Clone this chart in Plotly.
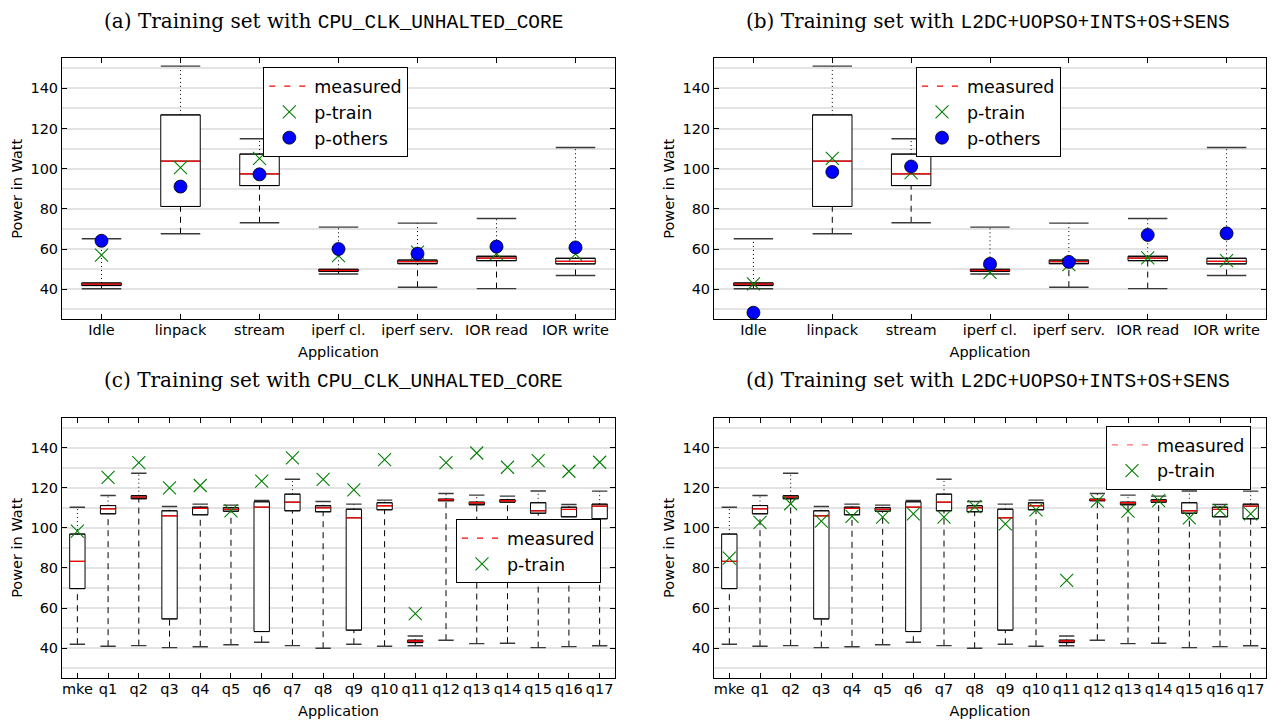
import plotly.graph_objects as go

# ---------------- data ----------------
top_apps = ["Idle", "linpack", "stream", "iperf cl.", "iperf serv.", "IOR read", "IOR write"]
top_low = [40.2, 67.6, 73.1, 47.6, 41.0, 40.3, 46.8]
top_q1 = [41.8, 81.2, 91.6, 48.9, 52.7, 54.2, 52.6]
top_med = [42.5, 103.8, 97.4, 49.4, 53.7, 55.5, 53.9]
top_q3 = [43.1, 126.8, 107.3, 49.9, 54.5, 56.4, 55.4]
top_high = [65.1, 151.1, 114.9, 70.9, 72.9, 75.2, 110.6]

a_ptrain = [57.0, 100.5, 105.1, 56.7, 58.5, 57.7, 57.5]
a_pothers = [64.1, 91.1, 97.2, 60.0, 57.7, 61.2, 60.8]
b_ptrain = [42.6, 105.2, 98.1, 48.4, 52.2, 55.6, 54.2]
b_pothers = [28.3, 98.4, 101.1, 52.6, 53.6, 67.0, 67.8]

bot_apps = ["mke", "q1", "q2", "q3", "q4", "q5", "q6", "q7", "q8", "q9",
            "q10", "q11", "q12", "q13", "q14", "q15", "q16", "q17"]
bot_low = [42.0, 41.0, 41.3, 40.3, 40.7, 41.7, 43.0, 41.3, 40.0, 42.0, 41.0, 41.2, 44.0, 42.3, 42.5, 40.3, 40.8, 41.2]
bot_q1 = [69.7, 107.0, 114.5, 54.6, 106.5, 108.3, 48.3, 108.5, 108.0, 49.0, 109.0, 42.8, 113.5, 111.5, 112.8, 107.3, 105.5, 104.5]
bot_med = [83.3, 109.5, 115.3, 106.0, 109.7, 109.2, 110.3, 112.8, 110.0, 105.0, 111.0, 43.6, 114.0, 112.5, 113.5, 108.5, 109.2, 110.8]
bot_q3 = [96.9, 111.1, 116.0, 108.5, 110.3, 110.0, 113.0, 116.8, 111.0, 109.3, 112.5, 44.0, 114.3, 112.8, 114.0, 112.5, 110.3, 111.8]
bot_high = [110.3, 116.1, 127.2, 110.6, 111.8, 111.3, 113.6, 124.2, 113.1, 111.8, 113.8, 46.1, 117.1, 116.3, 115.8, 118.4, 111.6, 118.3]

c_ptrain = [98.4, 125.2, 132.5, 119.9, 121.1, 108.5, 123.3, 134.9, 124.2, 118.9, 134.0, 57.2, 132.5, 137.3, 130.2, 133.5, 128.2, 132.7]
d_ptrain = [84.9, 102.7, 112.0, 103.3, 105.7, 105.3, 107.0, 105.3, 110.6, 102.0, 109.0, 73.8, 113.3, 108.3, 113.6, 105.0, 108.7, 107.0]

titles = [
    ("(a) Training set with ", "CPU_CLK_UNHALTED_CORE"),
    ("(b) Training set with ", "L2DC+UOPSO+INTS+OS+SENS"),
    ("(c) Training set with ", "CPU_CLK_UNHALTED_CORE"),
    ("(d) Training set with ", "L2DC+UOPSO+INTS+OS+SENS"),
]

# ---------------- style ----------------
BOXW = 0.5
GREEN = "rgb(0,128,0)"
TICKFONT = dict(family="DejaVu Sans", size=14.5, color="black")
LEGFONT = dict(family="DejaVu Sans", size=17.5, color="black")
GRID = "#e3e3e3"

fig = go.Figure()


def seg_xy(pos, a, b, half=None):
    xs, ys = [], []
    for p, lo, hi in zip(pos, a, b):
        if half is None:
            xs += [p, p, None]
            ys += [lo, hi, None]
        else:
            xs += [p - half, p + half, None]
            ys += [lo, lo, None]
    return xs, ys


def add_boxes(ax, low, q1, med, q3, high):
    xa, ya = ("x" + ax, "y" + ax)
    pos = list(range(len(low)))
    fig.add_trace(go.Box(x=pos, q1=q1, median=med, q3=q3, lowerfence=q1, upperfence=q3,
                         width=BOXW, fillcolor="white", line=dict(color="black", width=1),
                         whiskerwidth=1, showlegend=False, xaxis=xa, yaxis=ya, hoverinfo="skip"))
    # lower whiskers dashed
    xs, ys = seg_xy(pos, low, q1)
    fig.add_trace(go.Scatter(x=xs, y=ys, mode="lines", line=dict(color="black", width=1, dash="6px,5px"),
                             showlegend=False, xaxis=xa, yaxis=ya, hoverinfo="skip"))
    # upper whiskers dotted
    xs, ys = seg_xy(pos, q3, high)
    fig.add_trace(go.Scatter(x=xs, y=ys, mode="lines", line=dict(color="black", width=1, dash="1px,3px"),
                             showlegend=False, xaxis=xa, yaxis=ya, hoverinfo="skip"))
    # caps
    xs1, ys1 = seg_xy(pos, low, low, half=BOXW / 2)
    xs2, ys2 = seg_xy(pos, high, high, half=BOXW / 2)
    fig.add_trace(go.Scatter(x=xs1 + xs2, y=ys1 + ys2, mode="lines", line=dict(color="#3a3a3a", width=1.4),
                             showlegend=False, xaxis=xa, yaxis=ya, hoverinfo="skip"))
    # medians
    xs, ys = seg_xy(pos, med, med, half=BOXW / 2)
    fig.add_trace(go.Scatter(x=xs, y=ys, mode="lines", line=dict(color="red", width=1.3),
                             showlegend=False, xaxis=xa, yaxis=ya, hoverinfo="skip"))


def add_legend_line(ax, leg, color):
    fig.add_trace(go.Scatter(x=[None], y=[None], mode="lines", name="measured",
                             line=dict(color=color, width=1.3, dash="6px,9px"),
                             legend=leg, legendgroup=leg + "m", xaxis="x" + ax, yaxis="y" + ax))


def add_ptrain(ax, leg, vals):
    fig.add_trace(go.Scatter(x=list(range(len(vals))), y=vals, mode="markers", name="p-train",
                             marker=dict(symbol="x-thin", size=13, color=GREEN, line=dict(color=GREEN, width=1.1)),
                             legend=leg, legendgroup=leg + "t", xaxis="x" + ax, yaxis="y" + ax))


def add_pothers(ax, leg, vals):
    fig.add_trace(go.Scatter(x=list(range(len(vals))), y=vals, mode="markers", name="p-others",
                             marker=dict(symbol="circle", size=13, color="blue", line=dict(color="black", width=0.8)),
                             legend=leg, legendgroup=leg + "o", xaxis="x" + ax, yaxis="y" + ax))


# panel a
add_boxes("", top_low, top_q1, top_med, top_q3, top_high)
add_legend_line("", "legend", "red")
add_ptrain("", "legend", a_ptrain)
add_pothers("", "legend", a_pothers)
# panel b
add_boxes("2", top_low, top_q1, top_med, top_q3, top_high)
add_legend_line("2", "legend2", "red")
add_ptrain("2", "legend2", b_ptrain)
add_pothers("2", "legend2", b_pothers)
# panel c
add_boxes("3", bot_low, bot_q1, bot_med, bot_q3, bot_high)
add_legend_line("3", "legend3", "red")
add_ptrain("3", "legend3", c_ptrain)
# panel d
add_boxes("4", bot_low, bot_q1, bot_med, bot_q3, bot_high)
add_legend_line("4", "legend4", "rgba(255,60,60,0.75)")
add_ptrain("4", "legend4", d_ptrain)

W, H = 1272, 720
colx = [(62 / W, 615 / W), (714 / W, 1266 / W)]
rowy = [(1 - 319.3 / H, 1 - 58.3 / H), (1 - 678.3 / H, 1 - 417.5 / H)]


def xaxis(dom, names, anchor):
    return dict(domain=dom, anchor=anchor, range=[-0.5, len(names) - 0.5],
                tickmode="array", tickvals=list(range(len(names))), ticktext=names,
                showline=True, linecolor="black", linewidth=1, mirror="ticks",
                ticks="inside", ticklen=5, tickcolor="black", showgrid=False, zeroline=False,
                tickfont=TICKFONT, automargin=False, ticklabelstandoff=-3,
                title=dict(text="Application", font=TICKFONT, standoff=10))


def yaxis(dom, anchor):
    return dict(domain=dom, anchor=anchor, range=[25, 155], tick0=0, dtick=20,
                showline=True, linecolor="black", linewidth=1, mirror="ticks",
                ticks="inside", ticklen=5, tickcolor="black", zeroline=False,
                showgrid=True, gridcolor=GRID, gridwidth=1.5,
                minor=dict(dtick=10, tick0=0, showgrid=True, gridcolor=GRID, gridwidth=1.5, ticks=""),
                tickfont=TICKFONT, automargin=False,
                title=dict(text="Power in Watt", font=TICKFONT, standoff=4))


def legend(x, y):
    return dict(x=x, y=y, xref="paper", yref="paper", xanchor="left", yanchor="top",
                bgcolor="white", bordercolor="black", borderwidth=1, font=LEGFONT,
                tracegroupgap=0, itemwidth=40)


title_pos = [(333 / W, 1 - 21.4 / H), (988 / W, 1 - 21.4 / H),
             (333 / W, 1 - 380.5 / H), (988 / W, 1 - 380.5 / H)]
annotations = []
for (pre, code), (tx, ty) in zip(titles, title_pos):
    annotations.append(dict(
        text=pre + "<span style='font-family:Liberation Mono;font-size:19.5px'>" + code + "</span>",
        x=tx, y=ty, xref="paper", yref="paper", xanchor="center", yanchor="middle",
        showarrow=False, font=dict(family="DejaVu Serif", size=20, color="black")))

fig.update_layout(
    width=W, height=H, margin=dict(l=0, r=0, t=0, b=0),
    paper_bgcolor="white", plot_bgcolor="white",
    xaxis=xaxis(colx[0], top_apps, "y"), yaxis=yaxis(rowy[0], "x"),
    xaxis2=xaxis(colx[1], top_apps, "y2"), yaxis2=yaxis(rowy[0], "x2"),
    xaxis3=xaxis(colx[0], bot_apps, "y3"), yaxis3=yaxis(rowy[1], "x3"),
    xaxis4=xaxis(colx[1], bot_apps, "y4"), yaxis4=yaxis(rowy[1], "x4"),
    legend=legend(263.3 / W, 1 - 67.3 / H),
    legend2=legend(916 / W, 1 - 67.3 / H),
    legend3=legend(456 / W, 1 - 519.3 / H),
    legend4=legend(1106 / W, 1 - 426 / H),
    annotations=annotations,
    boxmode="overlay",
)

fig.write_html("out.html", config={"displayModeBar": False},
               post_script="document.body.style.margin='0px';document.body.style.overflow='hidden';")
